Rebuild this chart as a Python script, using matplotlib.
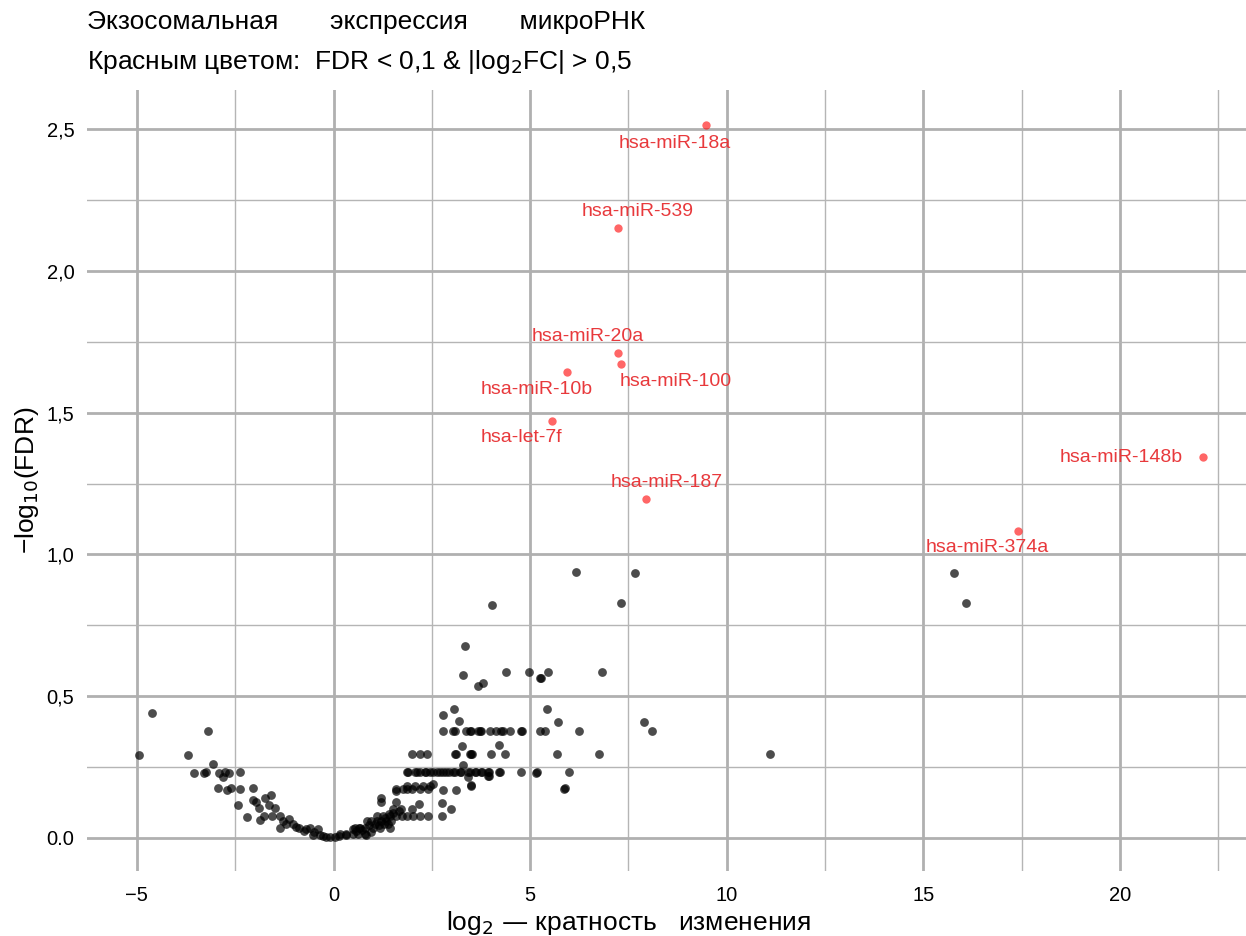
import matplotlib
matplotlib.use("Agg")
import matplotlib.pyplot as plt
from matplotlib.ticker import FixedLocator

plt.rcParams['font.family'] = ['Liberation Sans', 'DejaVu Sans']

# significant miRNAs (red)
sig_names = ['hsa-miR-18a', 'hsa-miR-539', 'hsa-miR-20a', 'hsa-miR-100', 'hsa-miR-10b',
             'hsa-let-7f', 'hsa-miR-187', 'hsa-miR-148b', 'hsa-miR-374a']
sig_fc = [9.47, 7.23, 7.23, 7.30, 5.93, 5.55, 7.94, 22.11, 17.40]
sig_fdr = [2.513, 2.153, 1.712, 1.673, 1.645, 1.472, 1.197, 1.345, 1.084]

# the rest (black)
bg_fc = [
    -4.94, -4.62, -3.69, -3.18, -3.07, -3.56, -3.30, -3.24, -2.90, -2.77, -2.66, -2.80,
    -2.39, -2.94, -2.71, -2.60, -2.37, -2.05, -2.43, -2.20, -2.05, -1.97, -1.90, -1.73,
    -1.60, -1.63, -1.48, -1.88, -1.76, -1.56, -1.37, -1.37, -1.29, -1.12, -1.04, -0.87,
    -0.76, -0.61, -0.40, -0.53, -0.27, -0.10, 0.03, 0.15, 0.32,
    -0.95, -0.70, -0.50, -0.35, -0.20, -1.20,
    0.49, 0.66, 0.83, 0.62, 0.16, 0.33, 0.50, 0.79, 0.54, 0.67, 0.80, 1.01, 1.18, 1.43,
    0.84, 0.96, 1.10, 1.21, 1.34, 1.47, 1.10, 1.26, 1.43, 1.60, 1.73, 1.86, 2.03, 2.20,
    2.41, 2.75, 1.30, 1.42, 1.51, 2.00, 3.00, 1.72, 1.21, 1.21, 1.60, 2.17, 2.75, 1.60,
    1.77, 1.86, 1.99, 2.20, 2.41, 2.78, 3.12, 1.86, 2.07, 2.28, 2.45, 2.54, 3.49, 3.42,
    3.95, 3.93, 3.50, 1.58,
    1.87, 1.90, 2.07, 2.12, 2.19, 2.32, 2.36, 2.45, 2.53, 2.62, 2.71, 2.78, 2.87, 2.95,
    3.04, 3.08, 3.21, 3.25, 3.43, 3.46, 3.60, 3.63, 3.76, 3.77, 3.93, 3.95, 4.22, 4.23,
    4.78, 5.15, 5.17, 5.99,
    2.00, 2.21, 2.38, 3.08, 3.12, 3.46, 3.53, 4.01, 4.36, 5.68, 6.75, 3.51,
    3.29, 3.26, 4.20, 2.79, 3.06, 3.19, 5.44, 5.71, 7.90, 8.09, 11.10, 5.86, 5.88,
    2.78, 3.04, 3.10, 3.38, 3.46, 3.51, 3.67, 3.72, 3.76, 3.97, 4.14, 4.27, 4.31, 4.48,
    4.78, 4.80, 5.24, 5.37, 6.24,
    3.67, 3.80, 3.29, 4.40, 4.98, 5.46, 5.24, 5.28, 6.84, 3.34, 4.03, 6.17, 7.66, 7.31,
    15.78, 16.08,
    0.58, 0.72, 0.90, 1.05, 1.15, 1.28, 1.38, 0.95, 1.52, 1.66,
]
bg_fdr = [
    0.293, 0.442, 0.293, 0.378, 0.260, 0.229, 0.229, 0.234, 0.229, 0.234, 0.229, 0.215,
    0.234, 0.175, 0.168, 0.175, 0.172, 0.175, 0.115, 0.075, 0.133, 0.128, 0.107, 0.140,
    0.152, 0.117, 0.107, 0.062, 0.078, 0.078, 0.078, 0.036, 0.060, 0.066, 0.048, 0.036,
    0.025, 0.036, 0.031, 0.011, 0.007, 0.005, 0.005, 0.007, 0.011,
    0.040, 0.030, 0.020, 0.012, 0.004, 0.050,
    0.031, 0.036, 0.011, 0.015, 0.013, 0.013, 0.013, 0.013, 0.036, 0.036, 0.036, 0.036, 0.036, 0.036,
    0.060, 0.060, 0.060, 0.060, 0.060, 0.060, 0.078, 0.078, 0.078, 0.078, 0.078, 0.078, 0.078, 0.078,
    0.078, 0.078, 0.072, 0.084, 0.101, 0.101, 0.101, 0.101, 0.140, 0.128, 0.127, 0.119, 0.125, 0.172,
    0.172, 0.172, 0.172, 0.172, 0.172, 0.168, 0.168, 0.184, 0.184, 0.184, 0.184, 0.192, 0.187, 0.215,
    0.219, 0.219, 0.184, 0.166,
    0.233, 0.233, 0.233, 0.233, 0.233, 0.233, 0.233, 0.233, 0.233, 0.233, 0.233, 0.233, 0.233, 0.233,
    0.233, 0.233, 0.233, 0.233, 0.233, 0.233, 0.233, 0.233, 0.233, 0.233, 0.233, 0.233, 0.233, 0.233,
    0.233, 0.228, 0.233, 0.233,
    0.295, 0.295, 0.295, 0.295, 0.295, 0.295, 0.295, 0.295, 0.295, 0.295, 0.295, 0.295,
    0.258, 0.326, 0.328, 0.434, 0.456, 0.411, 0.456, 0.409, 0.409, 0.377, 0.295, 0.174, 0.175,
    0.378, 0.378, 0.378, 0.378, 0.378, 0.378, 0.378, 0.378, 0.378, 0.378, 0.378, 0.378, 0.378, 0.378,
    0.378, 0.378, 0.378, 0.378, 0.378,
    0.537, 0.548, 0.575, 0.587, 0.587, 0.587, 0.564, 0.564, 0.587, 0.678, 0.821, 0.939, 0.933, 0.830,
    0.935, 0.830,
    0.024, 0.028, 0.045, 0.050, 0.046, 0.050, 0.048, 0.022, 0.088, 0.094,
]

x_ticks = [-5, 0, 5, 10, 15, 20]
x_tick_labels = ['\u22125', '0', '5', '10', '15', '20']
y_ticks = [0.0, 0.5, 1.0, 1.5, 2.0, 2.5]
y_tick_labels = ['0.0', '0,5', '1,0', '1,5', '2,0', '2,5']

W, H = 1246, 936
fig = plt.figure(figsize=(W / 100, H / 100), dpi=100)
ax = fig.add_axes([87 / W, (H - 871) / H, (W - 87) / W, (871 - 90) / H])

ax.scatter(bg_fc, bg_fdr, s=40, color='black', alpha=0.7, linewidths=0, zorder=3)
ax.scatter(sig_fc, sig_fdr, s=36, color='red', alpha=0.6, linewidths=0, zorder=3)

# label offsets in pixels (dx, dy)
offsets = {
    'hsa-miR-18a': (-31, -18), 'hsa-miR-539': (20, 16), 'hsa-miR-20a': (-30, 16),
    'hsa-miR-100': (55, -18), 'hsa-miR-10b': (-30, -18), 'hsa-let-7f': (-30, -17),
    'hsa-miR-187': (21, 16), 'hsa-miR-148b': (-82, -1), 'hsa-miR-374a': (-30, -17),
}
for name, xv, yv in zip(sig_names, sig_fc, sig_fdr):
    ax.annotate(name, (xv, yv), xytext=offsets[name], textcoords='offset pixels',
                ha='center', va='center', fontsize=14, color='#e8393c', zorder=4)

ax.set_xlim(-6.27, 23.21)
ax.set_ylim(-0.1165, 2.638)
ax.set_xticks(x_ticks)
ax.set_xticklabels(x_tick_labels)
ax.set_yticks(y_ticks)
ax.set_yticklabels(y_tick_labels)
ax.xaxis.set_minor_locator(FixedLocator([-2.5, 2.5, 7.5, 12.5, 17.5, 22.5]))
ax.yaxis.set_minor_locator(FixedLocator([0.25, 0.75, 1.25, 1.75, 2.25]))
ax.grid(True, which='major', color='#b0b0b0', linewidth=2.0)
ax.grid(True, which='minor', color='#b5b5b5', linewidth=1.0)
ax.set_axisbelow(True)
for sp in ax.spines.values():
    sp.set_visible(False)
ax.tick_params(which='both', length=0, labelsize=14.5, colors='black')
ax.tick_params(axis='x', pad=11)
ax.tick_params(axis='y', pad=9)

ax.set_xlabel('log$_2$ \u2014 кратность   изменения', fontsize=19, va='center')
ax.xaxis.set_label_coords((628 - 87) / (W - 87), (871 - 923) / (871 - 90))
ax.set_ylabel('\u2212log$_{10}$(FDR)', fontsize=19, va='center')
ax.yaxis.set_label_coords((27 - 87) / (W - 87), 0.5)

fig.text(87 / W, 1 - 22 / H, 'Экзосомальная       экспрессия       микроРНК',
         fontsize=19, va='center', ha='left')
fig.text(87 / W, 1 - 62 / H, 'Красным цветом:  FDR < 0,1 & |log$_2$FC| > 0,5',
         fontsize=19, va='center', ha='left')

fig.savefig('out.png', dpi=100)
